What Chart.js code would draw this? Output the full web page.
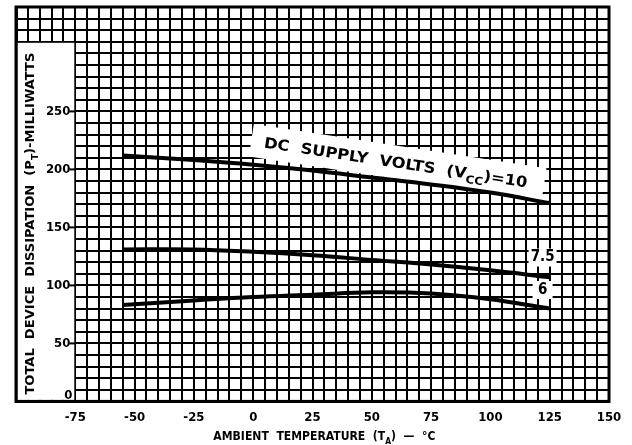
<!DOCTYPE html>
<html lang="en">
<head>
<meta charset="UTF-8">
<title>Total Device Dissipation vs Ambient Temperature</title>
<script src="https://cdn.jsdelivr.net/npm/chart.js"></script>
<style>
  body { margin: 0; background: #fff; }
  canvas { display: block; }
</style>
</head>
<body>
<canvas id="chart" width="632" height="445"></canvas>
<script>
const temps = [-55, -25, 0, 25, 50, 75, 100, 125];
// total device dissipation (mW) per supply voltage
const vcc10 = [212, 208, 204, 199, 193, 187, 180, 171];
const vcc75 = [131, 131, 129, 126, 122, 118, 113, 107];
const vcc6 = [83, 87, 90, 92, 94, 93, 88, 80];
// printed axis labels
const xTickLabels = [-75, -50, -25, 0, 25, 50, 75, 100, 125, 150];
const yTickLabels = [0, 50, 100, 150, 200, 250];

const FONT = "'Liberation Sans Narrow', 'DejaVu Sans Condensed', 'Liberation Sans', sans-serif";
const INK = '#000';

// draw text made of [string, isSubscript] parts, centred on the origin
function drawParts(ctx, parts, size, targetWidth) {
    const main = 'bold ' + size + 'px ' + FONT;
    const sub = 'bold ' + Math.round(size * 0.72) + 'px ' + FONT;
    let w = 0;
    parts.forEach(p => { ctx.font = p[1] ? sub : main; w += ctx.measureText(p[0]).width; });
    const k = targetWidth ? targetWidth / w : 1;
    ctx.save();
    ctx.scale(k, 1);
    ctx.textAlign = 'left';
    ctx.textBaseline = 'middle';
    ctx.fillStyle = INK;
    let x = -w / 2;
    parts.forEach(p => {
        ctx.font = p[1] ? sub : main;
        ctx.fillText(p[0], x, p[1] ? size * 0.38 : 0);
        x += ctx.measureText(p[0]).width;
    });
    ctx.restore();
}

function whiteRect(ctx, x0, y0, x1, y1) {
    ctx.fillStyle = '#fff';
    ctx.fillRect(x0, y0, x1 - x0, y1 - y0);
}

const CAPTION_ANGLE = 8.6 * Math.PI / 180;

const decorations = {
    id: 'decorations',
    beforeDatasetsDraw(chart) {
        const { ctx, scales: { x, y } } = chart;
        ctx.save();
        // label box on the left of the grid
        whiteRect(ctx, x.getPixelForValue(-100) + 1.5, y.getPixelForValue(310) + 1,
                  x.getPixelForValue(-75) - 1, y.getPixelForValue(0) - 1.5);
        // patch behind the Vcc = 10 caption
        ctx.save();
        ctx.translate(x.getPixelForValue(60), y.getPixelForValue(205));
        ctx.rotate(CAPTION_ANGLE);
        whiteRect(ctx, -146, -18, 150, 15);
        ctx.restore();
        // patches behind 7.5 and 6
        const cx = x.getPixelForValue(122);
        const c75y = y.getPixelForValue(124);
        whiteRect(ctx, cx - 14, c75y - 9, cx + 14, c75y + 9);
        const c6y = y.getPixelForValue(96);
        whiteRect(ctx, cx - 10, c6y - 9, cx + 10, c6y + 9);
        ctx.restore();
    },
    afterDraw(chart) {
        const { ctx, chartArea: a, scales: { x, y } } = chart;
        ctx.save();
        ctx.strokeStyle = INK;
        ctx.lineWidth = 3;
        ctx.strokeRect(a.left, a.top, a.right - a.left, a.bottom - a.top);

        // y tick labels inside the box
        const xr = x.getPixelForValue(-75);
        ctx.font = 'bold 13px ' + FONT;
        ctx.fillStyle = INK;
        ctx.textAlign = 'right';
        ctx.textBaseline = 'middle';
        ctx.lineWidth = 2;
        yTickLabels.forEach(v => {
            const py = y.getPixelForValue(v);
            if (v === 0) {
                ctx.fillText(String(v), xr - 3, py - 6);
            } else {
                ctx.fillText(String(v), xr - 5, py);
                ctx.beginPath();
                ctx.moveTo(xr - 6, py);
                ctx.lineTo(xr, py);
                ctx.stroke();
            }
        });

        // y axis title
        ctx.save();
        ctx.translate(x.getPixelForValue(-100) + 15, (y.getPixelForValue(0) + y.getPixelForValue(310)) / 2 + 2);
        ctx.rotate(-Math.PI / 2);
        drawParts(ctx, [['TOTAL  DEVICE  DISSIPATION  (P', 0], ['T', 1], [')-MILLIWATTS', 0]], 13, 342);
        ctx.restore();

        // x axis title
        ctx.save();
        ctx.translate(x.getPixelForValue(30), a.bottom + 35);
        drawParts(ctx, [['AMBIENT  TEMPERATURE  (T', 0], ['A', 1], [')  \u2014  \u00B0C', 0]], 13, 222);
        ctx.restore();

        // curve captions
        ctx.save();
        ctx.translate(x.getPixelForValue(60), y.getPixelForValue(205));
        ctx.rotate(CAPTION_ANGLE);
        drawParts(ctx, [['DC  SUPPLY  VOLTS  (V', 0], ['CC', 1], [')=10', 0]], 15, 266);
        ctx.restore();

        ctx.font = 'bold 15px ' + FONT;
        ctx.textAlign = 'center';
        ctx.textBaseline = 'middle';
        ctx.fillText('7.5', x.getPixelForValue(122), y.getPixelForValue(124));
        ctx.fillText('6', x.getPixelForValue(122), y.getPixelForValue(96));
        ctx.restore();
    }
};

const curveStyle = {
    borderColor: INK,
    borderWidth: 4,
    pointRadius: 0,
    fill: false,
    tension: 0.4
};

new Chart(document.getElementById('chart'), {
    type: 'line',
    data: {
        datasets: [
            { label: 'VCC = 10', data: temps.map((t, i) => ({ x: t, y: vcc10[i] })), ...curveStyle },
            { label: 'VCC = 7.5', data: temps.map((t, i) => ({ x: t, y: vcc75[i] })), ...curveStyle },
            { label: 'VCC = 6', data: temps.map((t, i) => ({ x: t, y: vcc6[i] })), ...curveStyle }
        ]
    },
    options: {
        responsive: false,
        animation: false,
        layout: { padding: { left: 16, right: 23, top: 7, bottom: 12 } },
        plugins: { legend: { display: false }, tooltip: { enabled: false } },
        scales: {
            x: {
                type: 'linear',
                min: -100,
                max: 150,
                grid: { color: INK, lineWidth: 2, drawTicks: false },
                border: { color: INK, width: 3 },
                ticks: {
                    stepSize: 5,
                    autoSkip: false,
                    maxRotation: 0,
                    minRotation: 0,
                    padding: 8,
                    color: INK,
                    font: { family: FONT, size: 13, weight: 'bold' },
                    callback: v => xTickLabels.includes(v) ? String(v) : ''
                }
            },
            y: {
                min: 0,
                max: 340,
                grid: { color: INK, lineWidth: 2, drawTicks: false },
                border: { color: INK, width: 3 },
                ticks: { stepSize: 10, display: false },
                afterFit: s => { s.width = 0; }
            }
        }
    },
    plugins: [decorations]
});
</script>
</body>
</html>
